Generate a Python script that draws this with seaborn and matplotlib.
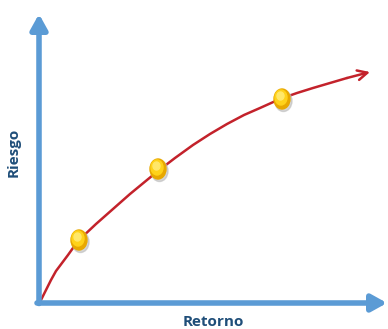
import matplotlib
matplotlib.use("Agg")
import matplotlib.pyplot as plt
from matplotlib.patches import Ellipse
import seaborn as sns
import pandas as pd

# curve (retorno, riesgo)
retorno = [2, 7, 12, 17, 23, 29, 34, 40, 57, 74, 91, 108, 119, 136, 154, 171, 188, 205, 221, 241, 258, 274, 291, 308]
riesgo = [2, 12, 22, 31, 39, 47, 54, 62, 78, 93, 108, 122, 131, 144, 157, 168, 178, 187, 194, 203, 209, 214, 219, 224]
arrow_tip = (331, 230)

# highlighted portfolios on the curve
dot_x = [40, 119, 243]
dot_y = [62, 133, 203]

AXIS_BLUE = "#5B9BD5"
CURVE_RED = "#C3222B"
LABEL_BLUE = "#1F4E79"

sns.set_style("white")
plt.rcParams["font.family"] = ["Open Sans", "DejaVu Sans"]

fig = plt.figure(figsize=(3.88, 3.29), dpi=100)
ax = fig.add_axes([0, 0, 1, 1])
ax.set_xlim(-39, 349)
ax.set_ylim(-27, 302)
ax.axis("off")

# axes drawn as thick blue arrows
ax.annotate("", xy=(0, 288), xytext=(0, -1.5),
            arrowprops=dict(arrowstyle="-|>,head_length=0.9,head_width=0.5",
                            color=AXIS_BLUE, lw=4, shrinkA=0, shrinkB=0))
ax.annotate("", xy=(348, -1), xytext=(-2, -1),
            arrowprops=dict(arrowstyle="-|>,head_length=0.9,head_width=0.5",
                            color=AXIS_BLUE, lw=4, shrinkA=0, shrinkB=0))

df = pd.DataFrame({"retorno": retorno, "riesgo": riesgo})
sns.lineplot(data=df, x="retorno", y="riesgo", color=CURVE_RED, lw=1.8,
             ax=ax, sort=False, solid_joinstyle="round", solid_capstyle="round")
ax.annotate("", xy=arrow_tip, xytext=(retorno[-1], riesgo[-1]),
            arrowprops=dict(arrowstyle="->,head_length=0.7,head_width=0.35",
                            color=CURVE_RED, lw=1.8, shrinkA=0, shrinkB=0))

for x, y in zip(dot_x, dot_y):
    ax.add_patch(Ellipse((x + 1.5, y - 2), 17, 21, color="#bbbbbb", alpha=0.6, zorder=3))
    ax.add_patch(Ellipse((x, y), 16, 20, color="#E8A800", zorder=4))
    ax.add_patch(Ellipse((x - 1, y + 1.5), 12, 15, color="#FFD21A", zorder=5))
    ax.add_patch(Ellipse((x - 1.5, y + 3), 7, 8, color="#FFE86A", zorder=6))

ax.text(-25, 150, "Riesgo", rotation=90, ha="center", va="center",
        fontsize=11, fontweight="bold", color=LABEL_BLUE)
ax.text(174, -20, "Retorno", ha="center", va="center",
        fontsize=11, fontweight="bold", color=LABEL_BLUE)

fig.savefig("out.png", dpi=100)
